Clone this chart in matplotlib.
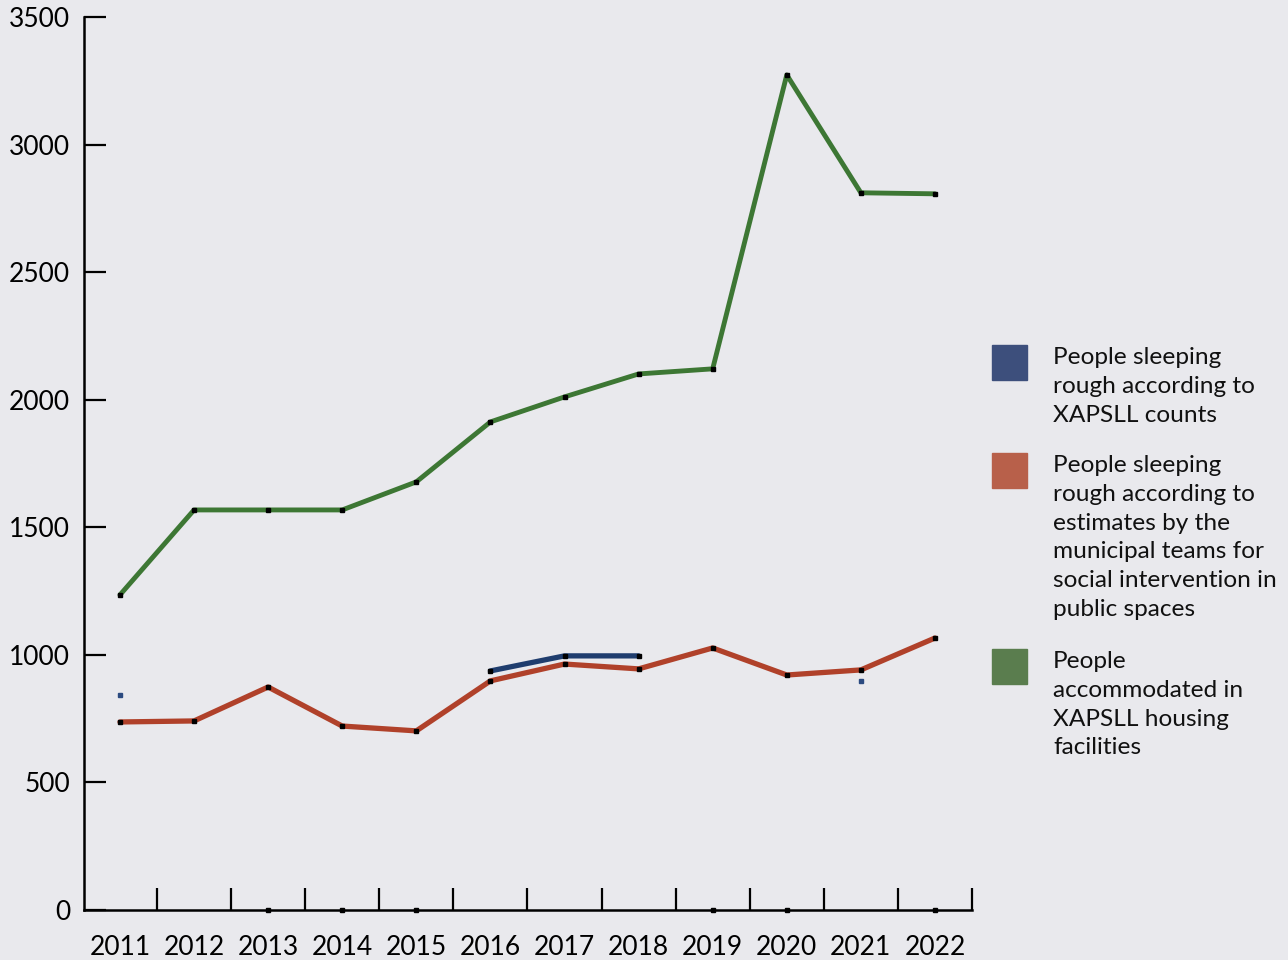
import matplotlib.pyplot as plt
from matplotlib.patches import Rectangle

plt.rcParams['font.family'] = ['Lato', 'DejaVu Sans']

years = list(range(2011, 2023))

# people accommodated in XAPSLL housing facilities
accommodated = [1235, 1568, 1568, 1568, 1678, 1913, 2011, 2101, 2121, 3273, 2811, 2807]

# rough sleepers, municipal team estimates
estimates = [737, 741, 874, 721, 702, 898, 964, 945, 1027, 921, 941, 1066]

# rough sleepers, XAPSLL counts (line segment + isolated points)
count_years = [2016, 2017, 2018]
counts = [937, 996, 996]
count_dot_years = [2011, 2021]
count_dots = [843, 898]

# stray markers sitting on the x axis
zero_years = [2013, 2014, 2015, 2019, 2020, 2022]
zero_vals = [0, 0, 0, 0, 0, 0]

legend_labels = [
    "People sleeping\nrough according to\nXAPSLL counts",
    "People sleeping\nrough according to\nestimates by the\nmunicipal teams for\nsocial intervention in\npublic spaces",
    "People\naccommodated in\nXAPSLL housing\nfacilities",
]
legend_colors = ['#3d4f7c', '#b8604a', '#5a7d4e']

bg = '#e9e9ed'
green = '#3d7734'
red = '#b0412a'
blue = '#1f3d6e'

fig = plt.figure(figsize=(12.88, 9.6), dpi=100, facecolor=bg)
ax = fig.add_axes([84 / 1288, 50 / 960, 888 / 1288, 893 / 960], facecolor=bg)

ax.plot(years, accommodated, color=green, lw=3.5, marker='s', ms=3.5,
        mfc='black', mec='black', solid_capstyle='round')
ax.plot(years, estimates, color=red, lw=3.8, marker='s', ms=3.5,
        mfc='black', mec='black', solid_capstyle='round')
ax.plot(count_years, counts, color=blue, lw=3.8, marker='s', ms=3.5,
        mfc='black', mec='black', solid_capstyle='round')
ax.plot(count_dot_years, count_dots, ls='none', marker='s', ms=3, color='#2b4a80')
ax.plot(zero_years, zero_vals, ls='none', marker='s', ms=3.5, color='black', clip_on=False)

ax.set_xlim(2011 - 36 / 74.18, 2022.5)
ax.set_ylim(0, 3500)

for s in ['top', 'right']:
    ax.spines[s].set_visible(False)
for s in ['left', 'bottom']:
    ax.spines[s].set_linewidth(1.8)

ax.set_yticks(range(0, 3501, 500))
ax.tick_params(axis='y', direction='in', length=16, width=1.6, pad=10, labelsize=19)

ax.set_xticks(years)
ax.set_xticklabels([str(y) for y in years])
ax.set_xticks([y + 0.5 for y in years], minor=True)
ax.tick_params(axis='x', which='major', length=0, pad=18, labelsize=19)
ax.tick_params(axis='x', which='minor', direction='in', length=16, width=1.6)

# legend drawn by hand
tops = [345, 453, 649]
for lab, col, top in zip(legend_labels, legend_colors, tops):
    fig.add_artist(Rectangle((992 / 1288, 1 - (top + 35) / 960), 35 / 1288, 35 / 960,
                             transform=fig.transFigure, color=col))
    fig.text(1053 / 1288, 1 - (top + 2) / 960, lab, ha='left', va='top',
             fontsize=17.6, linespacing=1.46, color='#111111')

fig.savefig('out.png', dpi=100, facecolor=bg)
